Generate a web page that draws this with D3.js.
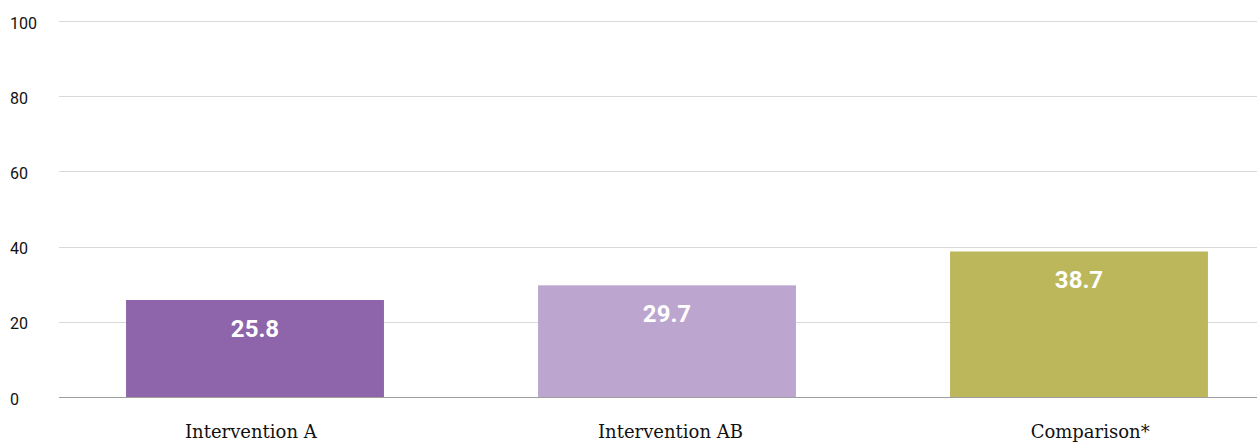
<!DOCTYPE html>
<html>
<head>
<meta charset="utf-8">
<script src="https://cdn.jsdelivr.net/npm/d3@7"></script>
<style>
  body { margin: 0; background: #fff; }
  svg { display: block; }
</style>
</head>
<body>
<div id="figure"><svg width="1257" height="443"></svg></div>
<script>
var categories = ["Intervention A", "Intervention AB", "Comparison*"];
var values = [25.8, 29.7, 38.7];
var barColors = ["#8e65aa", "#bca6cf", "#bdb75b"];
var yTicks = [0, 20, 40, 60, 80, 100];

var width = 1257;
var plotLeft = 59;
var figure = d3.select("div#figure svg");

var y = d3.scaleLinear()
  .domain([0, 100])
  .range([397, 21]);

var x = d3.scaleBand()
  .domain(categories)
  .range([49, 1285])
  .paddingInner(0.374)
  .paddingOuter(0.187);

// category labels sit on a slightly wider spacing than the bars
var xLabel = d3.scalePoint()
  .domain(categories)
  .range([41, 1300])
  .padding(0.5);

// gridlines
figure.append("g")
  .selectAll("line")
  .data(yTicks)
  .enter().append("line")
  .attr("x1", plotLeft)
  .attr("x2", width)
  .attr("y1", function(d) { return Math.round(y(d)) + 0.5; })
  .attr("y2", function(d) { return Math.round(y(d)) + 0.5; })
  .style("stroke", function(d) { return d === 0 ? "#9e9e9e" : "#d9d9d9"; })
  .style("stroke-width", 1);

// y tick labels
figure.append("g")
  .selectAll("text")
  .data(yTicks)
  .enter().append("text")
  .attr("x", 10)
  .attr("y", function(d) { return y(d) + 7.5; })
  .attr("font-family", "Roboto, sans-serif")
  .attr("font-size", 16)
  .attr("fill", "#111")
  .text(function(d) { return d; });

// bars
var bars = figure.append("g")
  .selectAll("g")
  .data(categories)
  .enter().append("g");

bars.append("rect")
  .attr("x", function(d) { return x(d); })
  .attr("y", function(d, i) { return y(values[i]); })
  .attr("width", x.bandwidth())
  .attr("height", function(d, i) { return y(0) - y(values[i]); })
  .style("fill", function(d, i) { return barColors[i]; });

bars.append("text")
  .attr("x", function(d) { return x(d) + x.bandwidth() / 2; })
  .attr("y", function(d, i) { return y(values[i]) + 37; })
  .attr("text-anchor", "middle")
  .attr("font-family", "Roboto, sans-serif")
  .attr("font-weight", "bold")
  .attr("font-size", 24)
  .attr("fill", "#fff")
  .text(function(d, i) { return values[i].toFixed(1); });

// category labels
bars.append("text")
  .attr("x", function(d) { return xLabel(d); })
  .attr("y", 437.5)
  .attr("text-anchor", "middle")
  .attr("font-family", "'DejaVu Serif', serif")
  .attr("font-size", 18)
  .attr("fill", "#111")
  .text(function(d) { return d; });
</script>
</body>
</html>
